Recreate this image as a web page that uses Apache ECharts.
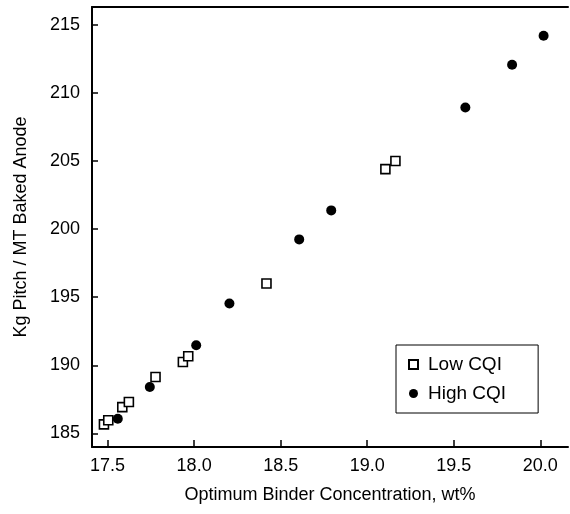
<!DOCTYPE html>
<html>
<head>
<meta charset="utf-8">
<script src="https://cdn.jsdelivr.net/npm/echarts@6/dist/echarts.min.js"></script>
<style>
  html, body { margin: 0; padding: 0; background: #fff; }
  #chart { width: 570px; height: 514px; }
</style>
</head>
<body>
<div id="chart"></div>
<script>
// data
var lowCqiX = [17.479, 17.504, 17.585, 17.623, 17.777, 17.935, 17.966, 18.418, 19.105, 19.163];
var lowCqiY = [185.66, 185.96, 186.93, 187.30, 189.14, 190.24, 190.66, 196.00, 204.40, 205.00];
var highCqiX = [17.559, 17.744, 18.012, 18.204, 18.607, 18.792, 19.567, 19.837, 20.019];
var highCqiY = [186.08, 188.40, 191.47, 194.54, 199.24, 201.37, 208.92, 212.06, 214.19];
var xTicks = [17.5, 18.0, 18.5, 19.0, 19.5, 20.0];
var yTicks = [185, 190, 195, 200, 205, 210, 215];

function pairs(xs, ys) {
  var out = [];
  for (var i = 0; i < xs.length; i++) out.push([xs[i], ys[i]]);
  return out;
}

var font = 'Liberation Sans, Arial, sans-serif';
var chart = echarts.init(document.getElementById('chart'), null, { renderer: 'canvas' });

chart.setOption({
  animation: false,
  backgroundColor: '#fff',
  grid: { left: 92, top: 7, right: 2, bottom: 67 },
  legend: {
    orient: 'vertical',
    left: 396,
    top: 345,
    borderColor: '#000',
    borderWidth: 1,
    padding: [10, 32, 10, 12],
    itemGap: 10,
    itemWidth: 9,
    itemHeight: 9,
    textStyle: { fontFamily: font, fontSize: 19, color: '#000', padding: [0, 0, 0, 5] },
    data: ['Low CQI', 'High CQI']
  },
  xAxis: [{
    type: 'value',
    min: 17.41,
    max: 20.16,
    name: 'Optimum Binder Concentration, wt%',
    nameLocation: 'middle',
    nameGap: 39,
    nameTextStyle: { fontFamily: font, fontSize: 18, color: '#000' },
    axisLine: { lineStyle: { color: '#000', width: 2 } },
    axisTick: { inside: true, length: 7, lineStyle: { color: '#000', width: 1.5 }, customValues: xTicks },
    axisLabel: {
      customValues: xTicks, margin: 10,
      fontFamily: font, fontSize: 18, color: '#000',
      formatter: function (v) { return v.toFixed(1); }
    },
    splitLine: { show: false }
  }, {
    type: 'value',
    position: 'top',
    min: 17.41,
    max: 20.16,
    axisLine: { show: true, onZero: false, lineStyle: { color: '#000', width: 2 } },
    axisTick: { show: false },
    axisLabel: { show: false },
    splitLine: { show: false }
  }],
  yAxis: {
    type: 'value',
    min: 184,
    max: 216.3,
    name: 'Kg Pitch / MT Baked Anode',
    nameLocation: 'middle',
    nameGap: 62,
    nameTextStyle: { fontFamily: font, fontSize: 18, color: '#000' },
    axisLine: { show: true, lineStyle: { color: '#000', width: 2 } },
    axisTick: { show: true, inside: true, length: 6, lineStyle: { color: '#000', width: 1.5 }, customValues: yTicks },
    axisLabel: { customValues: yTicks, margin: 12, fontFamily: font, fontSize: 18, color: '#000' },
    splitLine: { show: false }
  },
  series: [{
    name: 'Low CQI',
    type: 'scatter',
    symbol: 'rect',
    symbolSize: 9,
    itemStyle: { color: '#fff', borderColor: '#000', borderWidth: 1.6, opacity: 1 },
    data: pairs(lowCqiX, lowCqiY)
  }, {
    name: 'High CQI',
    type: 'scatter',
    symbol: 'circle',
    symbolSize: 10,
    itemStyle: { color: '#000', opacity: 1 },
    data: pairs(highCqiX, highCqiY)
  }]
});
</script>
</body>
</html>
